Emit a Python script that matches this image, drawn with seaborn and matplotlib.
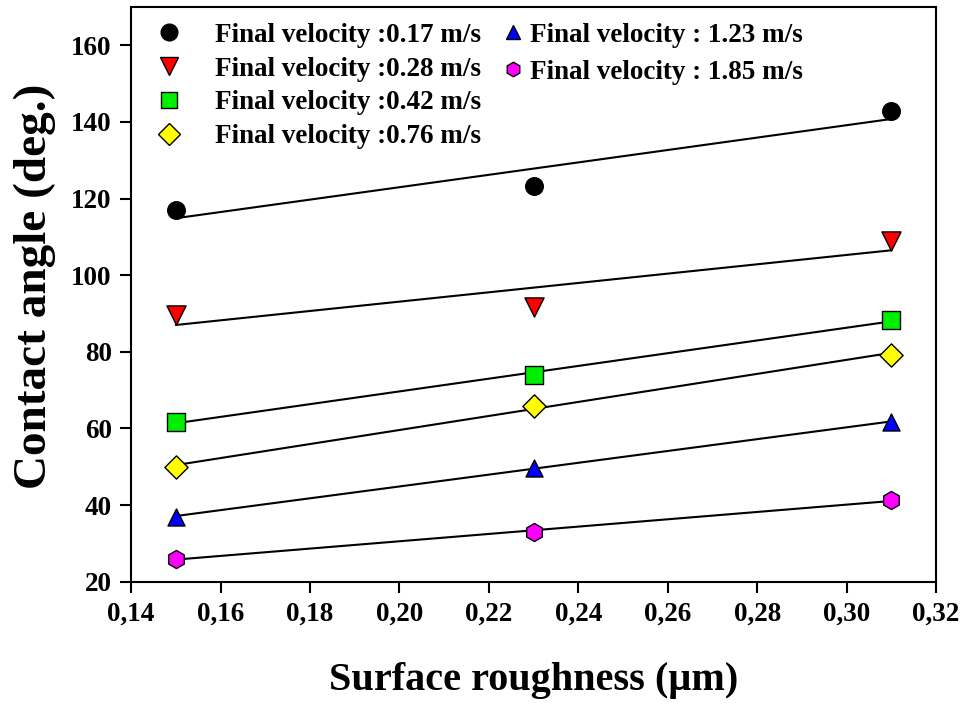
import numpy as np
import pandas as pd
import matplotlib
matplotlib.use("Agg")
import matplotlib.pyplot as plt
import seaborn as sns
from matplotlib.lines import Line2D

roughness = [0.15, 0.23, 0.31]
labels = ["Final velocity :0.17 m/s", "Final velocity :0.28 m/s",
          "Final velocity :0.42 m/s", "Final velocity :0.76 m/s",
          "Final velocity : 1.23 m/s", "Final velocity : 1.85 m/s"]
v017 = [117.1, 123.4, 143.0]
v028 = [89.5, 91.8, 109.0]
v042 = [61.7, 74.0, 88.3]
v076 = [50.0, 66.0, 79.3]
v123 = [37.0, 49.8, 61.7]
v185 = [26.0, 33.0, 41.3]
series = [v017, v028, v042, v076, v123, v185]
colors = ["black", "red", "#00ee00", "yellow", "blue", "magenta"]
markers = ["o", "v", "s", "D", "^", "h"]
sizes = [160, 190, 150, 140, 150, 170]
xticks = [0.14, 0.16, 0.18, 0.20, 0.22, 0.24, 0.26, 0.28, 0.30, 0.32]

sns.set_theme(style="ticks")
plt.rcParams['font.family'] = ['Liberation Serif', 'DejaVu Serif']
plt.rcParams['font.weight'] = 'bold'
plt.rcParams['text.color'] = 'black'
plt.rcParams['axes.labelcolor'] = 'black'
plt.rcParams['xtick.color'] = 'black'
plt.rcParams['ytick.color'] = 'black'

fig, ax = plt.subplots(figsize=(9.64, 7.06), dpi=100)
fig.subplots_adjust(left=0.136, right=0.971, bottom=0.176, top=0.990)

rows = []
for lab, vals in zip(labels, series):
    for x, y in zip(roughness, vals):
        rows.append({"x": x, "y": y, "s": lab})
df = pd.DataFrame(rows)

for lab, c, m, sz in zip(labels, colors, markers, sizes):
    d = df[df.s == lab]
    sns.regplot(data=d, x="x", y="y", scatter=False, ci=None, truncate=True,
                color="black", line_kws={"lw": 1.5, "zorder": 2}, ax=ax)
    sns.scatterplot(data=d, x="x", y="y", marker=m, color=c, s=sz,
                    edgecolor="black", linewidth=1.0, zorder=3, ax=ax, legend=False)

ax.set_xlim(0.14, 0.32)
ax.set_ylim(20, 170)
ax.set_xticks(xticks)
ax.set_xticklabels([f"{t:.2f}".replace(".", ",") for t in xticks])
ax.set_yticks(range(20, 161, 20))
ax.tick_params(axis="both", labelsize=19.5, length=8, width=1.5, direction="out",
               top=False, right=False, pad=6, colors="black")
for lbl in ax.get_xticklabels() + ax.get_yticklabels():
    lbl.set_fontweight("bold")
for sp in ax.spines.values():
    sp.set_linewidth(1.5)
    sp.set_color("black")
    sp.set_visible(True)

ax.set_xlabel("Surface roughness (\u03bcm)", fontsize=29, fontweight="bold",
              labelpad=26, color="black")
ax.set_ylabel("Contact angle (deg.)", fontsize=34, fontweight="bold",
              color="black")
ax.yaxis.set_label_coords(-0.093, 0.514)

def handles(idx, scale):
    return [Line2D([], [], ls="none", marker=markers[i], markerfacecolor=colors[i],
                   markeredgecolor="black", markeredgewidth=1.0,
                   markersize=np.sqrt(sizes[i]) * scale) for i in idx]

leg1 = ax.legend(handles([0, 1, 2, 3], 0.95), labels[:4], loc="upper left",
                 bbox_to_anchor=(0.030, 0.973), frameon=False,
                 prop={"size": 19.5, "weight": "bold"}, handlelength=1.0,
                 handletextpad=1.2, labelspacing=0.33, borderaxespad=0,
                 borderpad=0, labelcolor="black")
ax.add_artist(leg1)
ax.legend(handles([4, 5], 0.8), labels[4:], loc="upper left",
          bbox_to_anchor=(0.457, 0.973), frameon=False,
          prop={"size": 19.5, "weight": "bold"}, handlelength=1.0,
          handletextpad=0.15, labelspacing=0.45, borderaxespad=0,
          borderpad=0, labelcolor="black")

fig.savefig("out.png", dpi=100)
